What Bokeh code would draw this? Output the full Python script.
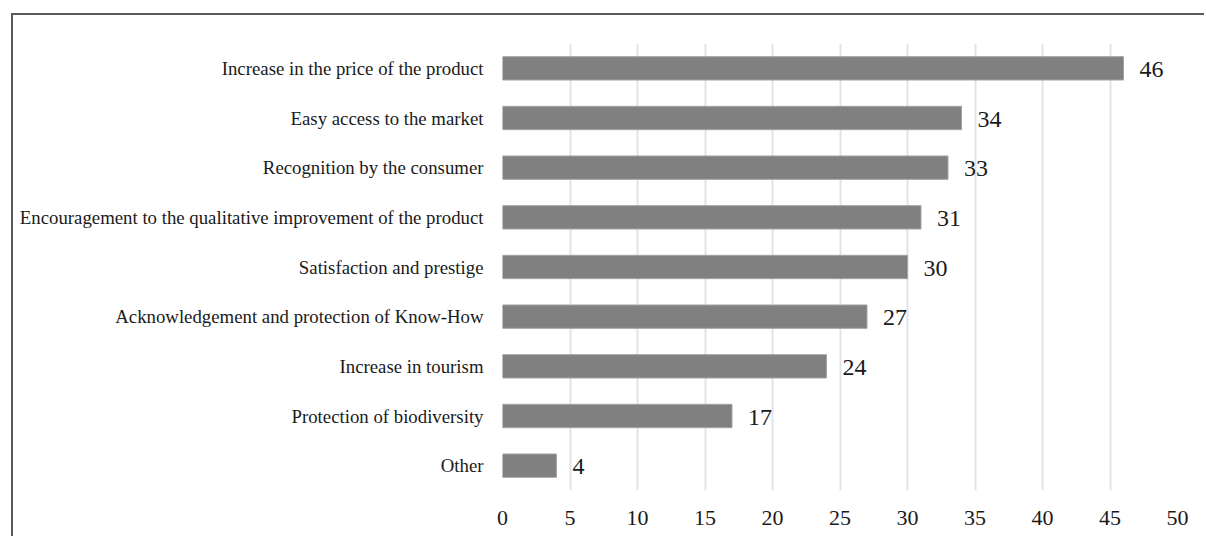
from bokeh.plotting import figure
from bokeh.models import ColumnDataSource, LabelSet, Range1d, FactorRange, FixedTicker
from bokeh.embed import file_html
from bokeh.resources import INLINE

# Perceived benefits, number of responses
benefits = [
    "Increase in the price of the product",
    "Easy access to the market",
    "Recognition by the consumer",
    "Encouragement to the qualitative improvement of the product",
    "Satisfaction and prestige",
    "Acknowledgement and protection of Know-How",
    "Increase in tourism",
    "Protection of biodiversity",
    "Other",
]
responses = [46, 34, 33, 31, 30, 27, 24, 17, 4]
x_ticks = [0, 5, 10, 15, 20, 25, 30, 35, 40, 45, 50]

SERIF = "Liberation Serif"

source = ColumnDataSource(data=dict(
    benefit=benefits,
    n=responses,
    label=[str(v) for v in responses],
))

p = figure(
    width=1193, height=523,
    y_range=FactorRange(factors=list(reversed(benefits))),
    x_range=Range1d(0, 50),
    output_backend="svg",
    toolbar_location=None,
    min_border_left=489, min_border_right=29,
    min_border_top=28, min_border_bottom=48,
)
p.styles = {
    "margin-left": "11px",
    "margin-top": "13px",
    "border-left": "2px solid #5a5a5a",
    "border-top": "2px solid #5a5a5a",
}
p.outline_line_color = None
p.background_fill_color = "white"
p.border_fill_color = "white"

p.hbar(y="benefit", left=0, right="n", height=0.47, source=source,
       fill_color="#808080", line_color="#a3a3a3", line_width=1)

labels = LabelSet(x="n", y="benefit", text="label", source=source,
                  x_offset=16, y_offset=-1, text_baseline="middle",
                  text_font=SERIF, text_font_size="24px", text_color="#1a1a1a")
p.add_layout(labels)

# vertical grid only
p.ygrid.grid_line_color = None
p.xgrid.grid_line_color = "#e0e3ea"
p.xgrid.grid_line_width = 2
p.xaxis.ticker = FixedTicker(ticks=x_ticks)

for ax in (p.xaxis, p.yaxis):
    ax.axis_line_color = None
    ax.major_tick_line_color = None
    ax.minor_tick_line_color = None
    ax.major_label_text_font = SERIF
    ax.major_label_text_color = "#1a1a1a"

p.xaxis.major_label_text_font_size = "22px"
p.xaxis.major_label_standoff = 14
p.yaxis.major_label_text_font_size = "18.8px"
p.yaxis.major_label_standoff = 13

open("out.html", "w").write(file_html(p, INLINE))
